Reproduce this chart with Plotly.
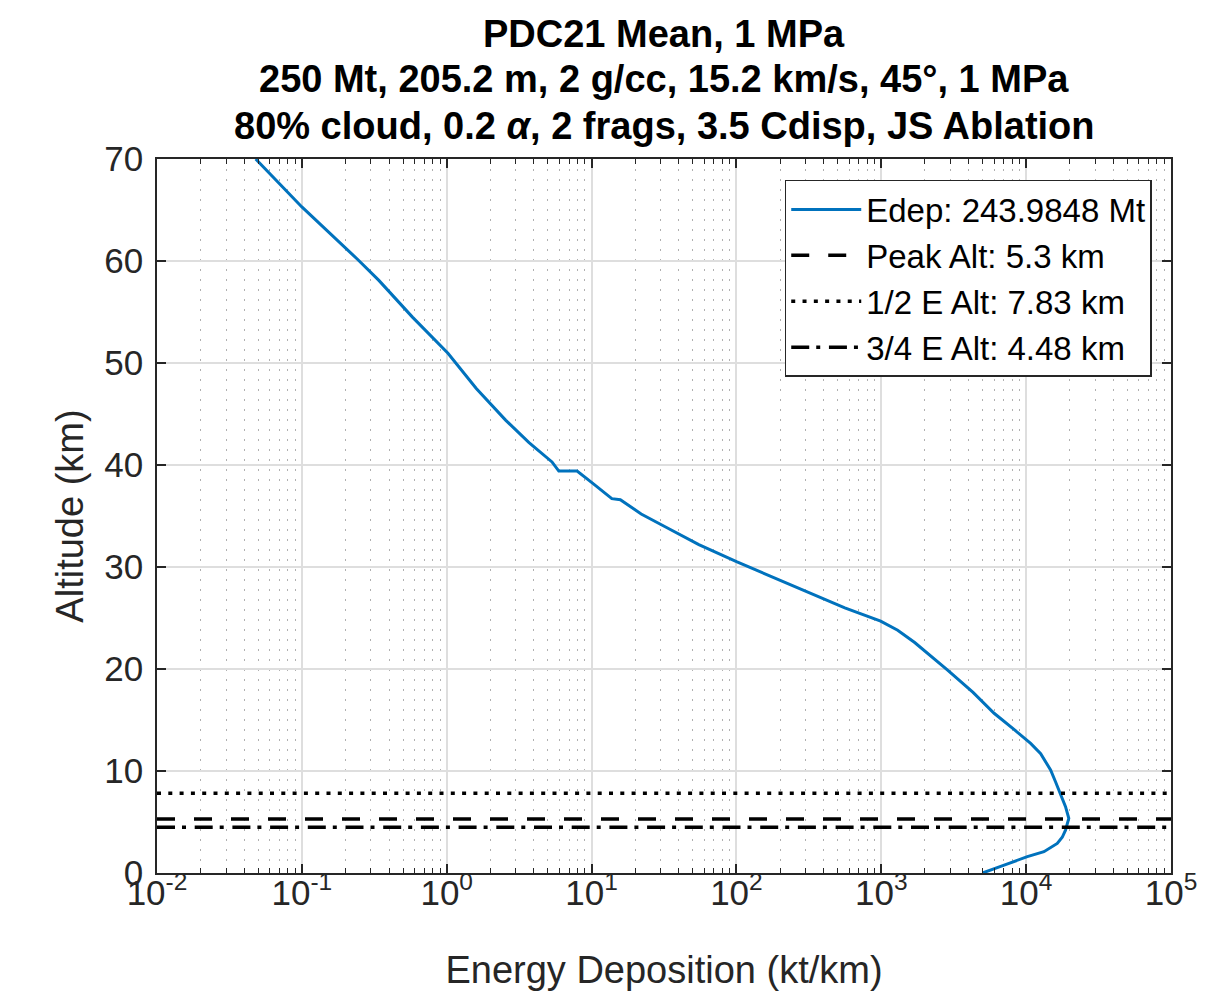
import plotly.graph_objects as go

# ---- data ----
altitude_km = [70.0, 65.3, 60.1, 58.1, 54.5, 50.95, 47.5, 44.4, 42.2, 40.3, 39.4, 39.4, 38.3, 36.7,
               36.6, 35.2, 33.95, 32.2, 30.5, 28.9, 27.4, 26.0, 24.7, 23.8, 22.6, 19.9, 17.7,
               15.66, 14.1, 12.7, 11.7, 10.1, 8.95, 7.8, 6.5, 5.36, 4.2, 3.5, 2.9, 2.09, 1.6,
               0.78, 0.0]
edep_kt_per_km = [0.048, 0.10, 0.245, 0.34, 0.58, 1.02, 1.60, 2.55, 3.70, 5.33, 5.94, 7.94, 10.0, 13.8,
                  15.8, 22.0, 32.2, 55.0, 101, 185, 329, 560, 990, 1298, 1700, 2870, 4300,
                  6010, 8200, 10740, 12600, 14750, 15950, 17270, 18700, 19700, 18700, 17750, 16400,
                  13270, 10190, 7050, 5000]

edep_total_mt = "243.9848"
peak_alt_km = 5.3
half_e_alt_km = 7.83
three_quarter_e_alt_km = 4.48

x_range_decades = [-2, 5]
x_tick_vals = [1e-2, 1e-1, 1e0, 1e1, 1e2, 1e3, 1e4, 1e5]
x_tick_text = ["10<sup>-2</sup>", "10<sup>-1</sup>", "10<sup>0</sup>", "10<sup>1</sup>",
               "10<sup>2</sup>", "10<sup>3</sup>", "10<sup>4</sup>", "10<sup>5</sup>"]
x_minor_vals = [m * d for d in [1e-2, 1e-1, 1e0, 1e1, 1e2, 1e3, 1e4] for m in range(2, 10)]
y_tick_vals = [0, 10, 20, 30, 40, 50, 60, 70]

title_lines = ["PDC21 Mean, 1 MPa",
               "250 Mt, 205.2 m, 2 g/cc, 15.2 km/s, 45°, 1 MPa",
               "80% cloud, 0.2 <i>α</i>, 2 frags, 3.5 Cdisp, JS Ablation"]
title_line_paper_y = [1.175, 1.112, 1.046]

FONT = "Liberation Sans, Arial, Helvetica, sans-serif"
AX = "#262626"
x_span = [10 ** x_range_decades[0], 10 ** x_range_decades[1]]

fig = go.Figure()
fig.add_trace(go.Scatter(x=edep_kt_per_km, y=altitude_km, mode="lines",
                         line=dict(color="#0072BD", width=3),
                         name=f"Edep: {edep_total_mt} Mt"))
fig.add_trace(go.Scatter(x=x_span, y=[peak_alt_km, peak_alt_km], mode="lines",
                         line=dict(color="black", width=3.5, dash="18px,19px"),
                         name=f"Peak Alt: {peak_alt_km} km"))
fig.add_trace(go.Scatter(x=x_span, y=[half_e_alt_km, half_e_alt_km], mode="lines",
                         line=dict(color="black", width=3.5, dash="4px,7.3px"),
                         name=f"1/2 E Alt: {half_e_alt_km} km"))
fig.add_trace(go.Scatter(x=x_span, y=[three_quarter_e_alt_km, three_quarter_e_alt_km], mode="lines",
                         line=dict(color="black", width=3.5, dash="18px,7px,4px,8.7px"),
                         name=f"3/4 E Alt: {three_quarter_e_alt_km} km"))

for txt, yy in zip(title_lines, title_line_paper_y):
    fig.add_annotation(text=f"<b>{txt}</b>", x=0.5, xref="paper", xanchor="center",
                       y=yy, yref="paper", yanchor="middle", showarrow=False,
                       font=dict(family=FONT, size=38, color="black"))

fig.update_layout(
    width=1201, height=990,
    paper_bgcolor="white", plot_bgcolor="white",
    margin=dict(l=149, r=35, t=151, b=125),
    font=dict(family=FONT, size=35, color=AX),
    showlegend=True,
    legend=dict(x=0.981, y=0.9706, xanchor="right", yanchor="top",
                bgcolor="white", bordercolor=AX, borderwidth=1.5,
                font=dict(family=FONT, size=33, color="black"),
                itemwidth=70, tracegroupgap=0),
)
fig.update_xaxes(
    type="log", range=x_range_decades,
    tickmode="array", tickvals=x_tick_vals, ticktext=x_tick_text,
    ticks="inside", ticklen=9, tickwidth=1.5, tickcolor=AX,
    showline=True, linecolor=AX, linewidth=1.5, mirror="ticks",
    showgrid=True, gridcolor="#dedede", gridwidth=1.5,
    zeroline=False, ticklabelstandoff=-12,
    tickfont=dict(family=FONT, size=35, color=AX),
    title=dict(text="Energy Deposition (kt/km)", standoff=46,
               font=dict(family=FONT, size=38, color=AX)),
    minor=dict(tickmode="array", tickvals=x_minor_vals, ticks="inside", ticklen=5,
               tickwidth=1, tickcolor=AX, showgrid=True, gridcolor="#b0b0b0",
               gridwidth=1, griddash="2px,8px"),
)
fig.update_yaxes(
    range=[0, 70], tickmode="array", tickvals=y_tick_vals,
    ticks="inside", ticklen=9, tickwidth=1.5, tickcolor=AX,
    showline=True, linecolor=AX, linewidth=1.5, mirror="ticks",
    showgrid=True, gridcolor="#dedede", gridwidth=1.5,
    zeroline=False, ticklabelstandoff=5,
    tickfont=dict(family=FONT, size=35, color=AX),
    title=dict(text="Altitude (km)", standoff=9,
               font=dict(family=FONT, size=38, color=AX)),
)

fig.write_html("out.html")
